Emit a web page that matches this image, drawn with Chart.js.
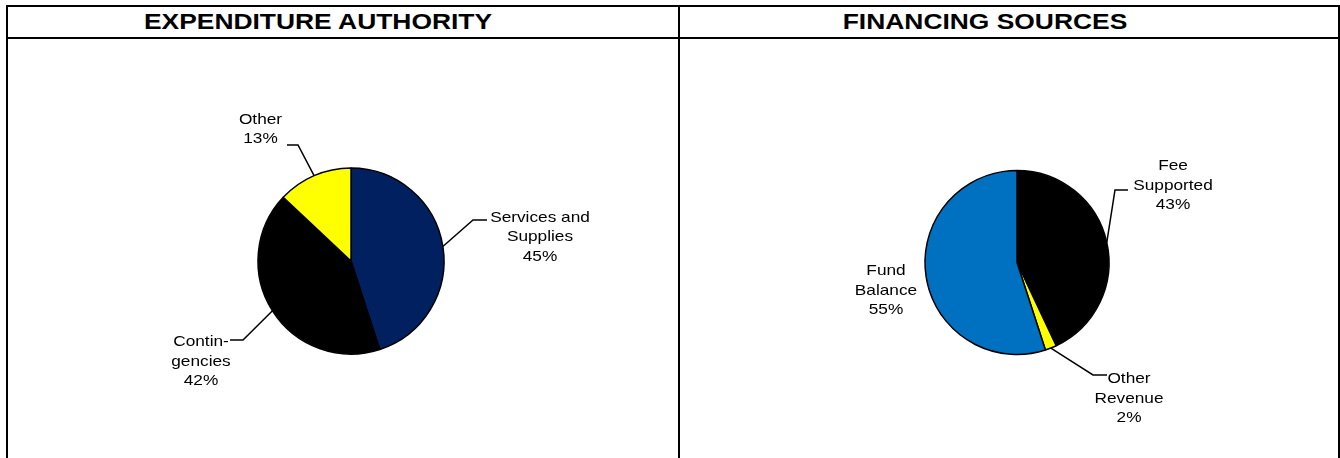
<!DOCTYPE html>
<html>
<head>
<meta charset="utf-8">
<script src="https://cdn.jsdelivr.net/npm/chart.js@4.4.0/dist/chart.umd.min.js"></script>
<style>
html, body { margin:0; padding:0; background:#fff; }
body { width:1340px; height:458px; overflow:hidden; position:relative; font-family:"Liberation Sans", Arial, sans-serif; }
.ln { position:absolute; background:#000; }
.hdr { position:absolute; top:8px; width:600px; text-align:center; font-weight:bold; font-size:22px; line-height:28px; white-space:nowrap; color:#000; transform:scaleX(1.2); transform-origin:50% 50%; }
canvas { position:absolute; left:0; top:0; }
</style>
</head>
<body>
<div class="ln" style="left:6px; top:5px; width:1334px; height:2px;"></div>
<div class="ln" style="left:6px; top:37px; width:1334px; height:2px;"></div>
<div class="ln" style="left:6px; top:5px; width:2px; height:453px;"></div>
<div class="ln" style="left:678px; top:5px; width:2px; height:453px;"></div>
<div class="ln" style="left:1338px; top:5px; width:2px; height:453px;"></div>
<div class="hdr" style="left:18px;">EXPENDITURE AUTHORITY</div>
<div class="hdr" style="left:685px;">FINANCING SOURCES</div>
<canvas id="c1" width="1340" height="458"></canvas>
<canvas id="c2" width="1340" height="458"></canvas>
<script>
// ---- data ----
const expCategories = ["Services and Supplies", "Contingencies", "Other"];
const expLabelLines = [["Services and", "Supplies"], ["Contin-", "gencies"], ["Other"]];
const expValues = [45, 42, 13];
const expColors = ["#002060", "#000000", "#FFFF00"];

const finCategories = ["Fee Supported", "Other Revenue", "Fund Balance"];
const finLabelLines = [["Fee", "Supported"], ["Other", "Revenue"], ["Fund", "Balance"]];
const finValues = [43, 2, 55];
const finColors = ["#000000", "#FFFF00", "#0070C0"];

// ---- label layout (page coordinates) ----
const expLayout = [
  { cx: 540, by: 221.5, elbow: [473, 220], end: [487, 220] },
  { cx: 201, by: 346, elbow: [243, 340], end: [230, 340] },
  { cx: 260.5, by: 123.5, elbow: [298, 145], end: [287, 145] }
];
const finLayout = [
  { cx: 1173, by: 170, elbow: [1115, 190], end: [1128, 190] },
  { cx: 1129, by: 383, elbow: [1093, 375], end: [1107, 375] },
  { cx: 886, by: 275, elbow: null, end: null }
];

const LINE_H = 19.5;
const STRETCH = 1.15;

const pieLabels = {
  id: 'pieLabels',
  afterDatasetsDraw(chart, args, opts) {
    const ctx = chart.ctx;
    const meta = chart.getDatasetMeta(0);
    const vals = chart.data.datasets[0].data;
    const total = vals.reduce((a, b) => a + b, 0);
    ctx.save();
    meta.data.forEach((arc, i) => {
      const p = arc.getProps(['x', 'y', 'startAngle', 'endAngle', 'outerRadius'], true);
      const L = opts.layout[i];
      const mid = (p.startAngle + p.endAngle) / 2;
      if (L.elbow) {
        const ex = p.x + Math.cos(mid) * p.outerRadius;
        const ey = p.y + Math.sin(mid) * p.outerRadius;
        ctx.strokeStyle = '#000';
        ctx.lineWidth = 1.5;
        ctx.beginPath();
        ctx.moveTo(ex, ey);
        ctx.lineTo(L.elbow[0], L.elbow[1]);
        ctx.lineTo(L.end[0], L.end[1]);
        ctx.stroke();
      }
      const lines = opts.lines[i].concat([Math.round(vals[i] / total * 100) + '%']);
      ctx.fillStyle = '#000';
      ctx.font = '15px "Liberation Sans", Arial, sans-serif';
      ctx.textAlign = 'center';
      ctx.textBaseline = 'alphabetic';
      lines.forEach((t, k) => {
        ctx.save();
        ctx.translate(L.cx, L.by + k * LINE_H);
        ctx.scale(STRETCH, 1);
        ctx.fillText(t, 0, 0);
        ctx.restore();
      });
    });
    ctx.restore();
  }
};

function makePie(id, cats, vals, cols, lines, layout, cx, cy, r) {
  const W = 1340, H = 458, half = 100;
  return new Chart(document.getElementById(id), {
    type: 'pie',
    data: {
      labels: cats,
      datasets: [{
        data: vals,
        backgroundColor: cols,
        borderColor: '#000',
        borderWidth: 1.5,
        radius: r
      }]
    },
    options: {
      responsive: false,
      animation: false,
      devicePixelRatio: 1,
      layout: { padding: { left: cx - half, right: W - cx - half, top: cy - half, bottom: H - cy - half } },
      plugins: {
        legend: { display: false },
        tooltip: { enabled: false },
        pieLabels: { lines: lines, layout: layout }
      }
    },
    plugins: [pieLabels]
  });
}

makePie('c1', expCategories, expValues, expColors, expLabelLines, expLayout, 351, 261, 93);
makePie('c2', finCategories, finValues, finColors, finLabelLines, finLayout, 1017, 262.5, 92);
</script>
</body>
</html>
